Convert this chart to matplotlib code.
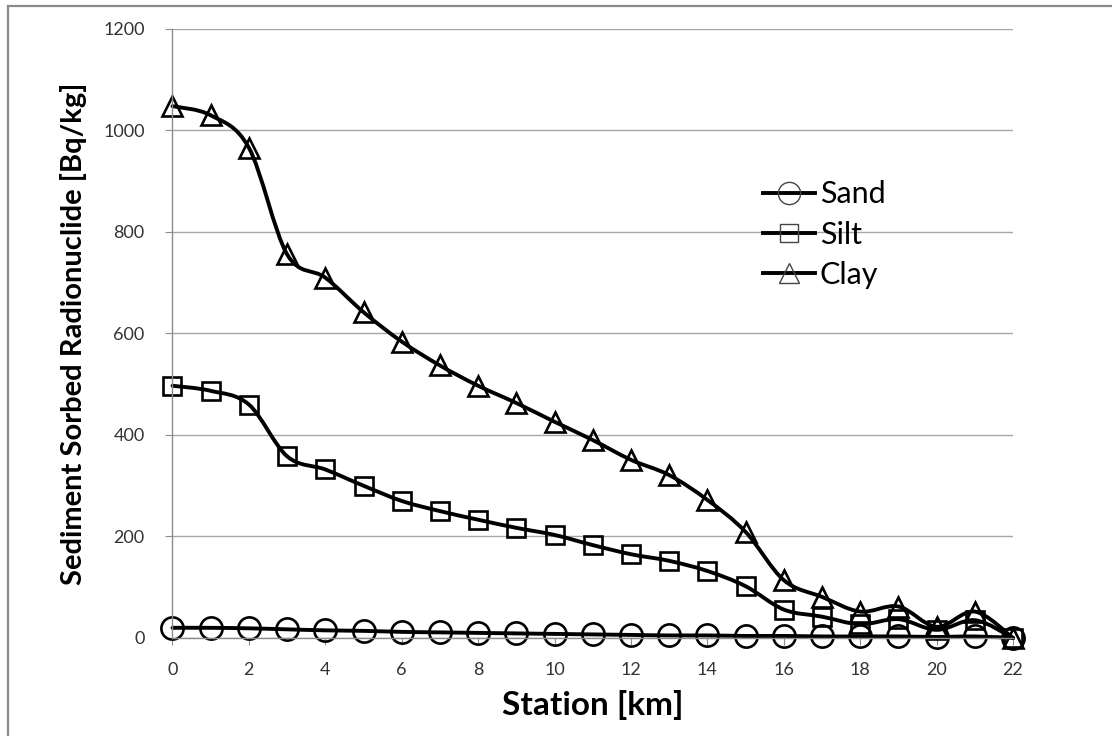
import numpy as np
import matplotlib
matplotlib.use('Agg')
import matplotlib.pyplot as plt
from matplotlib.path import Path
from matplotlib.patches import PathPatch
from matplotlib.lines import Line2D

plt.rcParams['font.family'] = ['Lato', 'DejaVu Sans']

station = list(range(23))
sand = [20, 20, 19, 17, 15, 14, 12, 11, 10, 9, 8, 7, 6, 5, 5, 4, 4, 3, 3, 3, 2, 3, 0]
silt = [497, 487, 460, 358, 332, 300, 270, 250, 233, 217, 203, 183, 165, 152, 132, 102,
        56, 42, 27, 37, 16, 35, 0]
clay = [1048, 1030, 966, 756, 710, 642, 584, 537, 497, 463, 426, 390, 351, 321, 272, 209,
        114, 81, 52, 62, 22, 52, 0]
names = ['Sand', 'Silt', 'Clay']
markers = ['o', 's', '^']
msizes = [16, 13, 14]


def smooth_path(x, y):
    # excel style smoothed line: bezier segments with catmull-rom control points
    P = np.column_stack([x, y]).astype(float)
    n = len(P)
    verts = [P[0]]
    codes = [Path.MOVETO]
    for i in range(n - 1):
        p0 = P[i - 1] if i > 0 else P[i]
        p1 = P[i]
        p2 = P[i + 1]
        p3 = P[i + 2] if i + 2 < n else P[i + 1]
        verts += [p1 + (p2 - p0) / 6, p2 - (p3 - p1) / 6, p2]
        codes += [Path.CURVE4] * 3
    return Path(verts, codes)


fig = plt.figure(figsize=(11.12, 7.36), dpi=100)
ax = fig.add_axes([0.1551, 0.1332, 0.7559, 0.8274])

handles = []
for vals, nm, mk, ms in zip([sand, silt, clay], names, markers, msizes):
    ax.add_patch(PathPatch(smooth_path(station, vals), fill=False, lw=2.8,
                           edgecolor='black', capstyle='round', joinstyle='round',
                           clip_on=False))
    ax.plot(station, vals, ls='none', marker=mk, ms=ms, mfc='none', mec='black', mew=1.9,
            clip_on=False)
    handles.append(Line2D([], [], color='black', lw=2.8, marker=mk, ms=ms,
                          mfc='none', mec='#444444', mew=1.0, label=nm))

ax.set_xlim(0, 22)
ax.set_ylim(0, 1200)
ax.set_xticks(range(0, 23, 2))
ax.set_yticks(range(0, 1201, 200))
ax.grid(axis='y', color='#a6a6a6', lw=1)
ax.set_axisbelow(True)
for s in ['top', 'right']:
    ax.spines[s].set_visible(False)
for s in ['left', 'bottom']:
    ax.spines[s].set_color('#8c8c8c')
    ax.spines[s].set_linewidth(1)
ax.tick_params(axis='y', length=5, color='#8c8c8c', pad=15, labelsize=13, labelcolor='#333333')
ax.tick_params(axis='x', length=5, color='#8c8c8c', pad=12, labelsize=13, labelcolor='#333333')

ax.set_xlabel('Station [km]', fontsize=24, fontweight='bold', labelpad=9)
ax.set_ylabel('Sediment Sorbed Radionuclide [Bq/kg]', fontsize=21, fontweight='bold',
              labelpad=12)

ax.legend(handles=handles, loc='upper left', bbox_to_anchor=(0.686, 0.755),
          bbox_transform=fig.transFigure, frameon=False, fontsize=22,
          handlelength=1.7, handletextpad=0.16, labelspacing=0.4,
          borderpad=0, borderaxespad=0)

# chart area border (left and top only visible)
fig.add_artist(Line2D([8 / 1112, 8 / 1112], [0, 1 - 6 / 736], color='#8a8a8a', lw=1.6))
fig.add_artist(Line2D([8 / 1112, 1], [1 - 6 / 736, 1 - 6 / 736], color='#8a8a8a', lw=1.6))

fig.savefig('out.png', dpi=100)
